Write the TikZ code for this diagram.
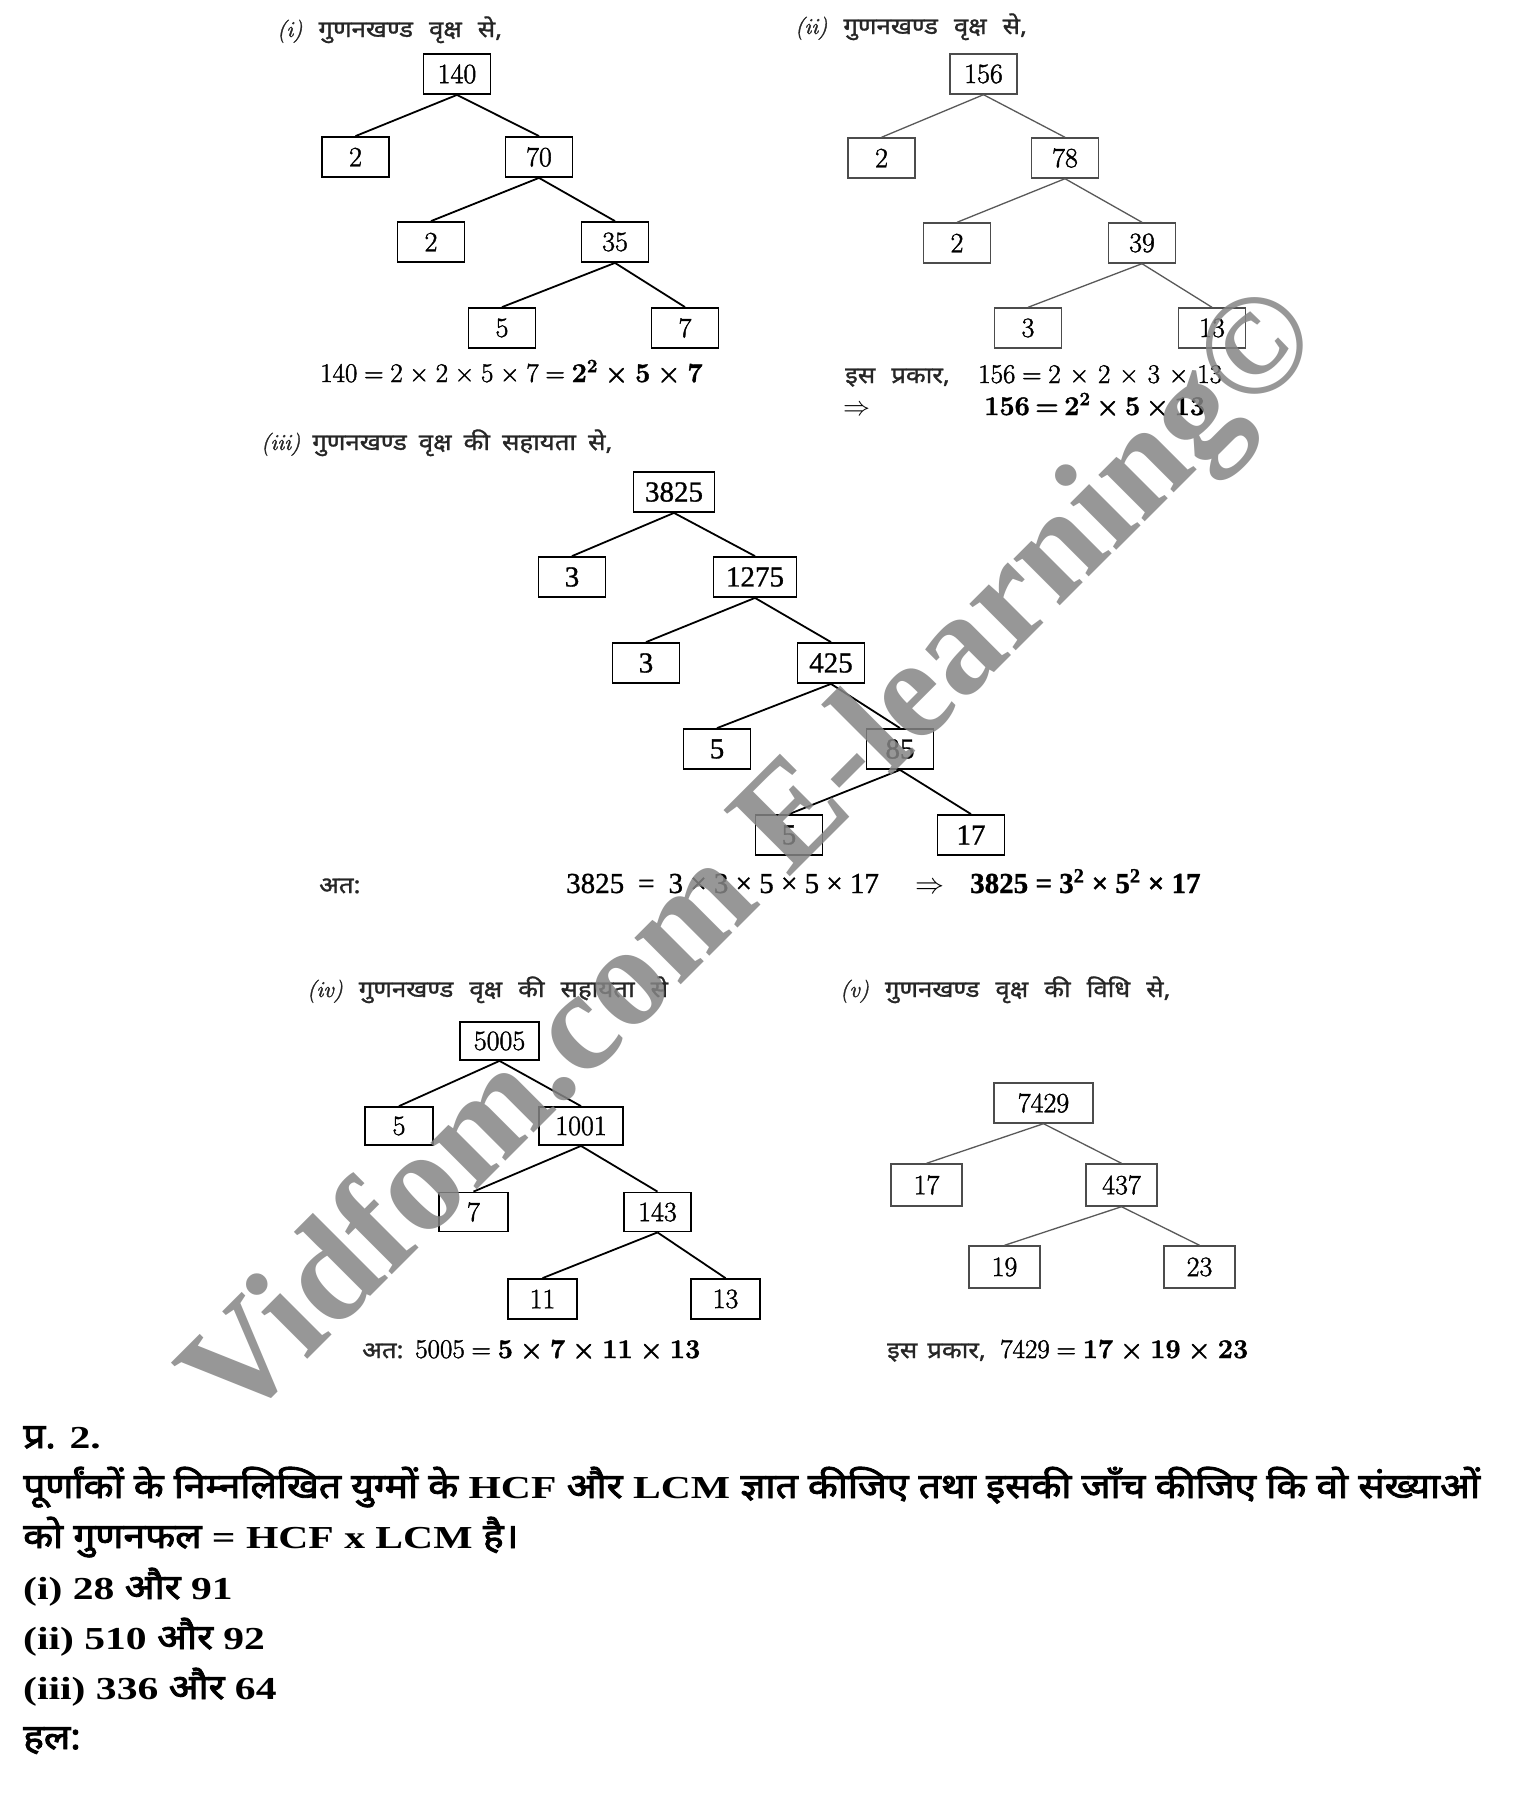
\RequirePackage{fix-cm}
\documentclass[tikz,border=0pt]{standalone}
\usepackage{fontspec}
\newfontfamily\hindi[Script=Devanagari, FakeBold=1.2, FakeStretch=1.12]{Noto Sans}
\newfontfamily\hindibold[Script=Devanagari, FakeBold=2.5, FakeStretch=1.12]{Noto Sans}
\newfontfamily\lserif[FakeBold=1]{Liberation Serif}
\newfontfamily\qserif[FakeStretch=1.3]{Liberation Serif Bold}
\newfontfamily\wmfont{Liberation Serif Bold}
\newfontfamily\lmb[FakeBold=1.5]{Latin Modern Roman}
\newcommand\X{\hspace{0.25em}×\hspace{0.25em}}
\newcommand\Q{\hspace{0.25em}=\hspace{0.25em}}
\newcommand\gap{\hspace{16pt}}
\newcommand\HB[1]{{\hindibold\fontsize{34.8}{36}\selectfont #1}}
\begin{document}
\begin{tikzpicture}[x=1pt,y=-1pt,
  bx/.style={draw, line width=1.8pt, minimum width=67pt, minimum height=40pt, inner sep=0pt, font=\lmb\fontsize{28}{28}\selectfont},
  bxg/.style={bx, draw=black!70, line width=1.4pt},
  bxt/.style={bx, font=\lserif\fontsize{29}{29}\selectfont},
  lnk/.style={line width=1.8pt},
  lnkg/.style={line width=1.3pt, draw=black!65},
  ttl/.style={anchor=base west, inner sep=0pt, font=\fontsize{23}{23}\selectfont, text=black!85},
  eqn/.style={anchor=base west, inner sep=0pt, font=\lmb\fontsize{27}{27}\selectfont},
  eqt/.style={anchor=base west, inner sep=0pt, font=\lserif\fontsize{29}{29}\selectfont},
  qtxt/.style={anchor=base west, inner sep=0pt, font=\qserif\fontsize{32}{32}\selectfont}
]
\useasboundingbox[fill=white] (0,0) rectangle (1528,1794);

% ---------- (i)
\node[ttl] (t1) at (277,37) {{\lmb\itshape (i)}\gap{\hindi गुणनखण्ड\gap वृक्ष\gap से,}};
\node[bx] (a0) at (457,74) {140};
\node[bx] (a1) at (355.5,157) {2};
\node[bx] (a2) at (539,157) {70};
\node[bx] (a3) at (431,242) {2};
\node[bx] (a4) at (615,242) {35};
\node[bx] (a5) at (502,328) {5};
\node[bx] (a6) at (685,328) {7};
\draw[lnk] (a0.south) -- (a1.north);
\draw[lnk] (a0.south) -- (a2.north);
\draw[lnk] (a2.south) -- (a3.north);
\draw[lnk] (a2.south) -- (a4.north);
\draw[lnk] (a4.south) -- (a5.north);
\draw[lnk] (a4.south) -- (a6.north);
\node[eqn] (e1) at (320,382) {140\Q 2\X 2\X 5\X 7\Q{\bfseries 2\textsuperscript{2}\X 5\X 7}};

% ---------- (ii)
\node[ttl] (t2) at (795,34) {{\lmb\itshape (ii)}\gap{\hindi गुणनखण्ड\gap वृक्ष\gap से,}};
\node[bxg] (b0) at (983.5,74) {156};
\node[bxg] (b1) at (881.5,158) {2};
\node[bxg] (b2) at (1065,158) {78};
\node[bxg] (b3) at (957,243) {2};
\node[bxg] (b4) at (1142,243) {39};
\node[bxg] (b5) at (1028,328) {3};
\node[bxg] (b6) at (1212,328) {13};
\draw[lnkg] (b0.south) -- (b1.north);
\draw[lnkg] (b0.south) -- (b2.north);
\draw[lnkg] (b2.south) -- (b3.north);
\draw[lnkg] (b2.south) -- (b4.north);
\draw[lnkg] (b4.south) -- (b5.north);
\draw[lnkg] (b4.south) -- (b6.north);
\node[ttl, font=\hindi\fontsize{23}{23}\selectfont] (e2a) at (845,383) {इस\gap प्रकार,};
\node[eqn] (e2b) at (978,383) {156\Q 2\hspace{0.33em}×\hspace{0.33em}2\hspace{0.33em}×\hspace{0.33em}3\hspace{0.33em}×\hspace{0.33em}13};
\node[eqn] (e2c) at (843,415) {$\Rightarrow$};
\node[eqn] (e2d) at (984,415) {\bfseries 156\hspace{0.2em}=\hspace{0.2em}2\textsuperscript{2}\hspace{0.2em}×\hspace{0.2em}5\hspace{0.2em}×\hspace{0.2em}13};

% ---------- (iii)
\node[ttl] (t3) at (261,450) {{\lmb\itshape (iii)}\hspace{12pt}{\hindi गुणनखण्ड\hspace{12pt}वृक्ष\hspace{12pt}की\hspace{12pt}सहायता\hspace{12pt}से,}};
\node[bxt, minimum width=81pt] (c0) at (674,492) {3825};
\node[bxt] (c1) at (572,577) {3};
\node[bxt, minimum width=83pt] (c2) at (755,577) {1275};
\node[bxt] (c3) at (646,663) {3};
\node[bxt] (c4) at (831,663) {425};
\node[bxt] (c5) at (717,749) {5};
\node[bxt] (c6) at (900,749) {85};
\node[bxt] (c7) at (789,835) {5};
\node[bxt] (c8) at (971,835) {17};
\draw[lnk] (c0.south) -- (c1.north);
\draw[lnk] (c0.south) -- (c2.north);
\draw[lnk] (c2.south) -- (c3.north);
\draw[lnk] (c2.south) -- (c4.north);
\draw[lnk] (c4.south) -- (c5.north);
\draw[lnk] (c4.south) -- (c6.north);
\draw[lnk] (c6.south) -- (c7.north);
\draw[lnk] (c6.south) -- (c8.north);
\node[ttl, font=\hindi\fontsize{23}{23}\selectfont] (e3a) at (319,893) {अत:};
\node[eqt] (e3b) at (566,893) {3825\hspace{14pt}=\hspace{14pt}3 × 3 × 5 × 5 × 17};
\node[eqt] (e3c) at (915,893) {$\Rightarrow$};
\node[eqt] (e3d) at (970,893) {\bfseries 3825 = 3\textsuperscript{2} × 5\textsuperscript{2} × 17};

% ---------- (iv)
\node[ttl] (t4) at (307,997) {{\lmb\itshape (iv)}\gap{\hindi गुणनखण्ड\gap वृक्ष\gap की\gap सहायता\gap से}};
\node[bx, minimum height=38pt, minimum width=79pt] (d0) at (499.5,1041) {5005};
\node[bx, minimum height=38pt, minimum width=68pt] (d1) at (399,1126) {5};
\node[bx, minimum height=38pt, minimum width=84pt] (d2) at (581,1126) {1001};
\node[bx, minimum height=39pt, minimum width=69pt] (d3) at (473.5,1212) {7};
\node[bx, minimum height=39pt, minimum width=67pt] (d4) at (657.5,1212) {143};
\node[bx, minimum width=69pt] (d5) at (542.5,1299) {11};
\node[bx, minimum width=69pt] (d6) at (725.5,1299) {13};
\draw[lnk] (d0.south) -- (d1.north);
\draw[lnk] (d0.south) -- (d2.north);
\draw[lnk] (d2.south) -- (d3.north);
\draw[lnk] (d2.south) -- (d4.north);
\draw[lnk] (d4.south) -- (d5.north);
\draw[lnk] (d4.south) -- (d6.north);
\node[ttl, font=\hindi\fontsize{23}{23}\selectfont] (e4a) at (362,1358) {अत:};
\node[eqn] (e4) at (415,1358) {5005\Q{\bfseries 5\X 7\X 11\X 13}};

% ---------- (v)
\node[ttl] (t5) at (840,997) {{\lmb\itshape (v)}\gap{\hindi गुणनखण्ड\gap वृक्ष\gap की\gap विधि\gap से,}};
\node[bxg, minimum width=99pt] (f0) at (1043.5,1103) {7429};
\node[bxg, minimum width=71pt, minimum height=42pt] (f1) at (926.5,1185) {17};
\node[bxg, minimum width=71pt, minimum height=42pt] (f2) at (1121.5,1185) {437};
\node[bxg, minimum width=71pt, minimum height=42pt] (f3) at (1004.5,1267) {19};
\node[bxg, minimum width=71pt, minimum height=42pt] (f4) at (1199.5,1267) {23};
\draw[lnkg] (f0.south) -- (f1.north);
\draw[lnkg] (f0.south) -- (f2.north);
\draw[lnkg] (f2.south) -- (f3.north);
\draw[lnkg] (f2.south) -- (f4.north);
\node[ttl, font=\hindi\fontsize{23}{23}\selectfont] (e5a) at (887,1358) {इस\hspace{10pt}प्रकार,};
\node[eqn] (e5) at (1000,1358) {7429\Q{\bfseries 17\X 19\X 23}};

% ---------- watermark
\node[rotate=45, font=\wmfont\fontsize{143}{143}\selectfont, text=black!48, opacity=0.85, inner sep=0pt] (wm) at (756,862) {Vidfom.com E-learning©};

% ---------- question text
\node[qtxt] (q1) at (23,1448) {\HB{प्र.} 2.};
\node[qtxt] (q2) at (23,1498) {\HB{पूर्णांकों के निम्नलिखित युग्मों के} HCF \HB{और} LCM \HB{ज्ञात कीजिए तथा इसकी जाँच कीजिए कि वो संख्याओं}};
\node[qtxt] (q3) at (23,1548) {\HB{को गुणनफल} = HCF x LCM \HB{है।}};
\node[qtxt] (q4) at (23,1599) {(i) 28 \HB{और} 91};
\node[qtxt] (q5) at (23,1649) {(ii) 510 \HB{और} 92};
\node[qtxt] (q6) at (23,1699) {(iii) 336 \HB{और} 64};
\node[qtxt] (q7) at (23,1749) {\HB{हल:}};
\end{tikzpicture}
\end{document}
